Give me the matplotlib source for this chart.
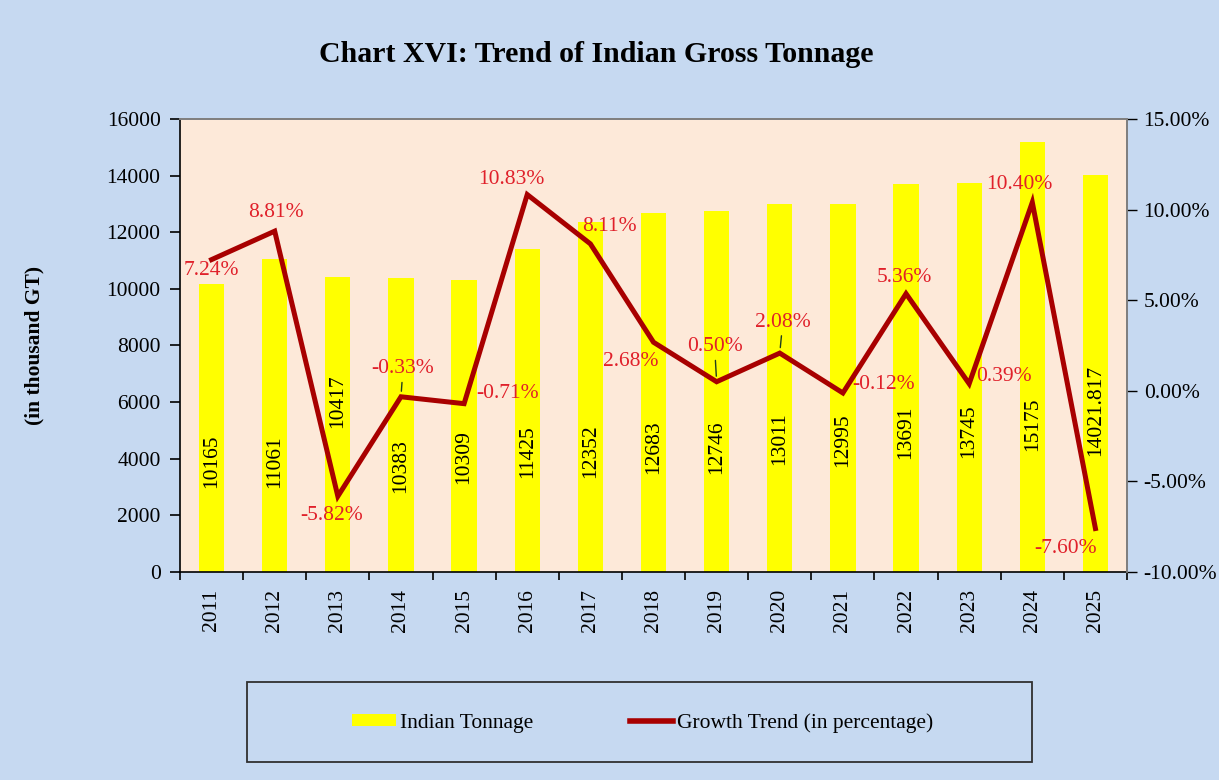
import matplotlib.pyplot as plt
from matplotlib.patches import Rectangle
from matplotlib.lines import Line2D
from matplotlib.patches import Patch

# data
years = ["2011", "2012", "2013", "2014", "2015", "2016", "2017", "2018",
         "2019", "2020", "2021", "2022", "2023", "2024", "2025"]
tonnage = [10165, 11061, 10417, 10383, 10309, 11425, 12352, 12683,
           12746, 13011, 12995, 13691, 13745, 15175, 14021.817]
tonnage_labels = ["10165", "11061", "10417", "10383", "10309", "11425", "12352", "12683",
                  "12746", "13011", "12995", "13691", "13745", "15175", "14021.817"]
growth = [7.24, 8.81, -5.82, -0.33, -0.71, 10.83, 8.11, 2.68,
          0.50, 2.08, -0.12, 5.36, 0.39, 10.40, -7.60]

# where the in-bar labels sit (left axis units) and offsets (pixels) of growth labels
bar_label_y = [3900, 3900, 6050, 3750, 4050, 4250, 4280, 4400,
               4400, 4700, 4650, 4950, 4980, 5230, 5720]
growth_offsets = [(0, -11), (1, 19), (-6, -19), (2, 28), (43, 10), (-16, 15), (19, 17), (-23, -19),
                  (-2, 35), (3, 31), (41, 8), (-2, 16), (35, 7), (-13, 18), (-30, -20)]
leaders = [3, 8, 9]

BG = "#C6D9F1"
PLOT_BG = "#FDE9D9"
BAR = "#FFFF00"
LINE = "#A80000"
LABEL = "#E0202A"
FS = 15.5

plt.rcParams["font.family"] = "Liberation Serif"

fig = plt.figure(figsize=(12.19, 7.80), dpi=100, facecolor=BG)
ax = fig.add_axes([180 / 1219, 1 - 572 / 780, (1127 - 180) / 1219, (572 - 119) / 780])
ax.set_facecolor(PLOT_BG)

x = list(range(len(years)))
ax.bar(x, tonnage, width=0.40, color=BAR, zorder=2)
for i in x:
    ax.text(i, bar_label_y[i], tonnage_labels[i], rotation=90, ha="center", va="center",
            fontsize=FS, color="black", zorder=3)

ax.set_xlim(-0.5, len(years) - 0.5)
ax.set_ylim(0, 16000)
ax.set_yticks(range(0, 16001, 2000))
ax.set_xticks(x)
ax.set_xticklabels(years, rotation=90, fontsize=FS)
ax.set_xticks([i + 0.5 for i in range(-1, len(years))], minor=True)
ax.tick_params(axis="x", which="major", length=0, pad=12)
ax.tick_params(axis="x", which="minor", length=6, direction="out", width=1.2)
ax.tick_params(axis="y", labelsize=FS, length=7, width=1.2, direction="out", pad=7)
ax.set_ylabel("(in thousand GT)", fontsize=FS, fontweight="bold")
ax.yaxis.set_label_coords((44 - 180) / 947, 0.5)

for side in ["left", "bottom"]:
    ax.spines[side].set_color("black")
    ax.spines[side].set_linewidth(1.2)
for side in ["top", "right"]:
    ax.spines[side].set_color("#808080")
    ax.spines[side].set_linewidth(1.3)

ax2 = ax.twinx()
ax2.plot(x, growth, color=LINE, linewidth=3.6, zorder=4, solid_joinstyle="miter")
ax2.set_ylim(-10, 15)
ax2.set_yticks(range(-10, 16, 5))
ax2.set_yticklabels([f"{v:.2f}%" for v in range(-10, 16, 5)], fontsize=FS)
ax2.tick_params(axis="y", length=7, width=1.0, direction="out", colors="black", pad=5)
ax2.spines["right"].set_color("#808080")
ax2.spines["right"].set_linewidth(1.3)
ax2.spines["top"].set_color("#808080")
ax2.spines["top"].set_linewidth(1.3)
ax2.spines["left"].set_visible(False)
ax2.spines["bottom"].set_visible(False)

for i in x:
    dx, dy = growth_offsets[i]
    kw = {}
    if i in leaders:
        kw["arrowprops"] = dict(arrowstyle="-", color="#1f3d1f", lw=1.0, shrinkA=1, shrinkB=4)
    ax2.annotate(f"{growth[i]:.2f}%", (i, growth[i]), xytext=(dx, dy), textcoords="offset pixels",
                 ha="center", va="center", fontsize=FS, color=LABEL, zorder=5, **kw)

fig.text(596 / 1219, 1 - 55 / 780, "Chart XVI: Trend of Indian Gross Tonnage",
         ha="center", va="center", fontsize=21.5, fontweight="bold")

# legend box
fig.patches.append(Rectangle((247 / 1219, 1 - 762 / 780), 785 / 1219, 80 / 780,
                             transform=fig.transFigure, facecolor="none",
                             edgecolor="#303030", linewidth=1.3))
handles = [Patch(facecolor=BAR, edgecolor="none"),
           Line2D([0], [0], color=LINE, linewidth=4)]
fig.legend(handles, ["Indian Tonnage", "Growth Trend (in percentage)"],
           loc="center", bbox_to_anchor=(643 / 1219, 1 - 723 / 780), ncol=2, frameon=False,
           fontsize=FS, handlelength=2.0, handleheight=0.5, handletextpad=0.2, columnspacing=4.5)

fig.savefig("out.png", dpi=100, facecolor=BG)
